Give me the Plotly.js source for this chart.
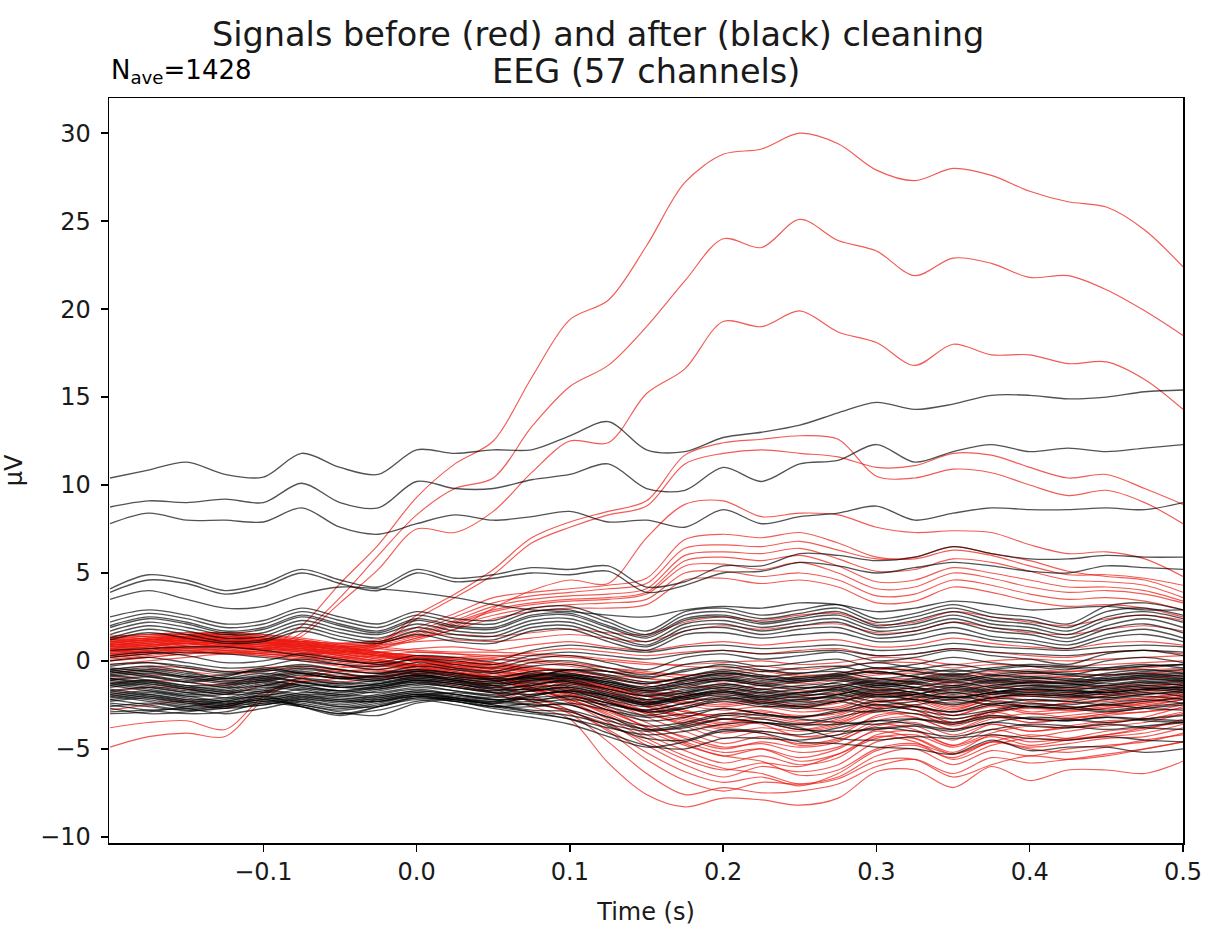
<!DOCTYPE html>
<html>
<head>
<meta charset="utf-8">
<script src="https://cdn.plot.ly/plotly-3.0.1.min.js"></script>
<style>
  html, body { margin: 0; padding: 0; background: #ffffff; }
  #chart { width: 1228px; height: 946px; }
</style>
</head>
<body>
<div id="chart"></div>
<script>
// Sample times (s)
const times = [-0.2,-0.175,-0.15,-0.125,-0.1,-0.075,-0.05,-0.025,0,0.025,0.05,0.075,0.1,0.125,0.15,0.175,0.2,0.225,0.25,0.275,0.3,0.325,0.35,0.375,0.4,0.425,0.45,0.475,0.5];

// Axis ticks
const xTicks = [-0.1,0,0.1,0.2,0.3,0.4,0.5];
const yTicks = [-10,-5,0,5,10,15,20,25,30];

// EEG channels before cleaning (µV), one row per channel
const before = [
  [0.8,0.9,1.1,0.9,0.7,2.0,4.4,6.6,9.3,11.2,12.5,16.1,19.4,20.5,23.6,27.2,28.8,29.1,30.0,29.4,27.9,27.3,28.0,27.6,26.7,26.1,25.8,24.5,22.4],
  [0.6,0.5,0.8,0.7,0.6,1.6,3.6,6.0,8.3,9.8,10.4,13.3,15.6,16.8,19.0,21.6,24.0,23.5,25.1,23.9,23.3,21.9,22.9,22.6,21.8,21.9,21.1,19.9,18.5],
  [0.3,0.5,0.6,0.4,0.5,1.4,3.3,5.2,7.5,7.3,8.5,10.7,12.5,12.4,15.2,16.6,19.3,19.0,19.9,18.7,18.1,16.8,18.0,17.4,17.4,16.9,17.0,16.0,14.3],
  [0.9,1.0,1.2,1.0,0.8,0.7,0.6,1.0,2.6,3.8,5.2,7.0,7.9,8.5,9.1,11.7,12.4,12.6,12.8,12.6,10.5,10.4,10.9,10.7,10.0,9.4,9.7,9.0,7.8],
  [0.7,0.8,1.0,0.8,0.7,0.6,0.5,0.9,2.4,3.6,4.9,6.7,7.6,8.3,8.8,11.2,11.8,12.0,11.8,11.6,11.0,11.1,11.8,11.7,11.0,10.4,10.6,9.8,8.9],
  [0.5,0.7,0.8,0.6,0.5,0.4,0.5,0.7,1.3,1.8,3.0,4.0,4.6,4.4,7.0,8.9,9.1,8.2,8.4,8.3,7.6,7.3,7.4,7.3,6.6,6.1,6.2,5.8,4.8],
  [1.2,1.4,1.5,1.3,1.1,1.0,0.9,1.1,1.7,2.5,3.3,3.7,3.9,4.1,4.4,6.4,6.6,6.5,6.8,6.3,5.8,5.9,6.5,6.1,5.7,5.1,4.8,4.6,3.9],
  [1.0,1.2,1.3,1.2,1.0,0.9,0.8,1.0,1.6,2.3,3.1,3.5,3.7,3.8,4.1,6.0,6.2,6.1,6.4,5.8,5.1,5.2,5.8,5.6,5.1,4.6,4.5,4.3,3.6],
  [0.9,1.1,1.2,1.0,0.9,0.8,0.7,0.9,1.4,2.1,2.8,3.2,3.4,3.5,3.8,5.4,5.5,5.2,5.6,5.0,4.1,4.2,5.0,4.7,4.2,3.9,4.0,3.8,3.3],
  [0.8,1.0,1.1,0.9,0.8,0.7,0.6,0.8,1.3,2.0,2.6,3.0,3.2,3.3,3.5,5.0,5.1,4.8,5.0,4.6,3.7,3.8,4.6,4.3,3.8,3.5,3.6,3.4,2.9],
  [0.7,0.9,1.0,0.8,0.7,0.6,0.5,0.7,1.2,1.8,2.4,2.8,3.0,3.0,3.2,4.6,4.7,4.4,4.6,4.2,3.3,3.4,4.2,3.9,3.4,3.1,3.2,3.0,2.5],
  [1.1,1.3,1.4,1.3,1.2,1.1,1.0,1.2,1.9,2.7,3.6,3.9,4.1,4.3,4.7,6.9,7.2,7.0,7.3,6.7,5.9,5.8,6.3,6.0,5.4,4.9,4.9,4.7,4.3],
  [0.9,1.1,1.2,1.1,0.9,0.8,0.8,1.0,1.5,2.2,2.9,3.3,3.5,3.6,3.9,5.7,5.9,5.7,6.0,5.4,4.5,4.6,5.3,5.0,4.6,4.2,4.2,4.0,3.4],
  [1.3,1.5,1.6,1.4,1.2,1.1,1.0,1.1,1.4,1.5,1.4,1.6,1.8,1.6,1.5,2.2,2.5,2.3,2.6,2.7,2.1,2.2,2.8,2.5,2.2,2.0,2.4,2.6,2.3],
  [1.0,1.2,1.3,1.2,1.0,0.9,0.8,0.9,1.1,1.2,1.1,1.3,1.5,1.3,1.1,1.7,2.0,1.8,2.0,2.1,1.6,1.7,2.2,1.9,1.6,1.5,1.8,2.0,1.7],
  [0.6,0.8,1.0,0.8,0.7,0.5,0.4,0.5,0.7,0.8,0.6,0.9,1.1,0.8,0.6,0.9,1.1,0.9,1.1,1.2,0.8,0.9,1.3,1.0,0.8,0.7,1.0,1.1,0.9],
  [0.4,0.6,0.7,0.6,0.4,0.3,0.2,0.3,0.5,0.4,0.2,0.5,0.7,0.5,0.3,0.5,0.6,0.4,0.6,0.7,0.3,0.4,0.7,0.5,0.3,0.2,0.5,0.6,0.4],
  [0.2,0.4,0.6,0.5,0.3,0.0,-0.3,-0.5,-0.8,-1.2,-1.8,-2.6,-3.3,-5.8,-7.6,-8.3,-7.8,-7.9,-8.2,-7.8,-6.3,-6.2,-7.2,-6.0,-6.8,-6.2,-6.2,-6.4,-5.7],
  [-4.9,-4.3,-4.1,-4.3,-2.2,-1.0,-0.6,-0.5,-0.7,-1.1,-1.6,-2.3,-3.0,-4.6,-6.4,-7.6,-7.2,-7.5,-7.4,-7.0,-6.0,-5.6,-6.4,-5.5,-5.8,-5.6,-5.3,-5.0,-4.6],
  [-3.8,-3.5,-3.4,-3.9,-2.0,-0.9,-0.4,-0.3,-0.5,-0.9,-1.4,-2.0,-2.8,-4.0,-5.6,-6.8,-7.4,-6.9,-7.0,-6.6,-5.4,-5.0,-5.9,-5.1,-5.4,-5.0,-4.8,-4.6,-4.1],
  [0.8,1.0,1.2,1.3,1.1,0.8,0.4,0.1,-0.3,-0.8,-1.4,-2.1,-2.8,-3.9,-5.2,-6.3,-6.9,-6.6,-7.1,-6.4,-5.1,-4.8,-5.5,-4.6,-4.9,-4.7,-4.4,-4.3,-3.8],
  [1.1,1.3,1.4,1.5,1.3,1.0,0.7,0.3,-0.1,-0.6,-1.1,-1.7,-2.4,-3.5,-4.8,-5.9,-6.6,-6.0,-6.3,-5.9,-4.6,-4.4,-5.2,-4.2,-4.6,-4.4,-4.0,-3.8,-3.5],
  [-2.8,-2.5,-2.3,-2.7,-1.8,-1.2,-1.0,-0.9,-1.1,-1.4,-1.8,-2.3,-2.9,-3.6,-4.6,-5.6,-6.2,-5.8,-6.0,-5.3,-4.3,-4.6,-5.6,-4.8,-4.4,-4.5,-4.2,-3.9,-3.3],
  [0.5,0.7,0.9,1.0,0.8,0.6,0.3,0.0,-0.3,-0.7,-1.1,-1.6,-2.2,-3.1,-4.2,-5.1,-5.8,-5.4,-5.9,-5.5,-4.2,-4.0,-4.8,-3.9,-4.3,-4.0,-3.7,-3.5,-3.0],
  [1.3,1.4,1.5,1.6,1.5,1.2,0.9,0.5,0.1,-0.3,-0.7,-1.2,-1.8,-2.7,-3.8,-4.7,-5.4,-5.0,-5.5,-5.0,-3.9,-3.7,-4.5,-3.6,-4.0,-3.7,-3.4,-3.3,-2.9],
  [0.3,0.5,0.7,0.8,0.6,0.4,0.1,-0.2,-0.4,-0.6,-0.9,-1.3,-1.9,-2.6,-3.5,-4.4,-5.0,-4.6,-4.9,-4.6,-3.6,-3.9,-4.8,-4.1,-3.7,-3.8,-3.6,-3.2,-2.6],
  [0.9,1.1,1.3,1.4,1.2,1.0,0.6,0.3,0.0,-0.3,-0.6,-1.0,-1.6,-2.3,-3.2,-4.0,-4.7,-4.3,-4.7,-4.4,-3.4,-3.2,-3.9,-3.2,-3.5,-3.3,-3.0,-2.9,-2.5],
  [0.6,0.8,1.0,1.1,1.0,0.7,0.4,0.1,-0.2,-0.4,-0.6,-0.9,-1.4,-2.0,-2.9,-3.7,-4.4,-4.0,-4.3,-4.2,-3.1,-3.0,-3.6,-2.9,-3.3,-3.1,-2.9,-2.7,-2.4],
  [-1.0,-0.8,-0.9,-1.2,-0.9,-0.7,-0.8,-0.9,-0.8,-1.0,-1.2,-1.5,-1.9,-2.4,-3.0,-3.6,-4.1,-3.8,-4.0,-3.7,-2.9,-3.2,-3.9,-3.3,-3.0,-3.2,-3.0,-2.6,-2.2],
  [1.2,1.3,1.4,1.4,1.2,1.0,0.8,0.5,0.2,0.0,-0.2,-0.6,-1.1,-1.7,-2.6,-3.3,-3.8,-3.5,-3.9,-3.6,-2.7,-2.5,-3.1,-2.5,-2.9,-2.7,-2.5,-2.3,-2.0],
  [0.4,0.6,0.8,0.9,0.8,0.6,0.3,0.0,-0.2,-0.3,-0.5,-0.8,-1.2,-1.8,-2.5,-3.1,-3.5,-3.2,-3.5,-3.4,-2.6,-2.8,-3.5,-2.9,-2.7,-2.8,-2.6,-2.4,-2.1],
  [1.0,1.2,1.3,1.3,1.1,0.9,0.6,0.3,0.1,-0.1,-0.3,-0.6,-1.0,-1.5,-2.2,-2.8,-3.3,-3.0,-3.4,-3.1,-2.4,-2.2,-2.8,-2.2,-2.6,-2.4,-2.2,-2.1,-1.9],
  [-1.8,-1.5,-1.6,-1.9,-1.4,-1.1,-1.2,-1.0,-0.9,-1.1,-1.4,-1.7,-2.0,-2.4,-2.8,-3.1,-3.0,-2.8,-3.2,-2.9,-2.2,-2.6,-3.3,-2.8,-2.4,-2.6,-2.5,-2.2,-1.9],
  [0.7,0.9,1.1,1.2,1.0,0.8,0.5,0.2,0.0,-0.2,-0.4,-0.6,-0.9,-1.4,-2.0,-2.5,-2.8,-2.6,-2.9,-2.7,-2.0,-1.9,-2.5,-2.0,-2.3,-2.2,-2.0,-1.9,-1.7],
  [0.2,0.4,0.6,0.7,0.6,0.4,0.1,-0.1,-0.3,-0.4,-0.6,-0.8,-1.1,-1.5,-2.0,-2.4,-2.6,-2.4,-2.7,-2.6,-1.9,-2.1,-2.7,-2.2,-2.0,-2.1,-2.0,-1.8,-1.6],
  [1.4,1.5,1.5,1.6,1.4,1.1,0.8,0.5,0.3,0.1,-0.1,-0.3,-0.7,-1.1,-1.7,-2.1,-2.4,-2.2,-2.5,-2.3,-1.7,-1.6,-2.1,-1.7,-2.0,-1.9,-1.7,-1.6,-1.5],
  [0.0,0.2,0.4,0.5,0.4,0.2,-0.1,-0.3,-0.4,-0.5,-0.7,-0.9,-1.1,-1.4,-1.8,-2.1,-2.2,-2.0,-2.3,-2.2,-1.6,-1.8,-2.3,-1.9,-1.7,-1.8,-1.7,-1.5,-1.3],
  [0.9,1.0,1.2,1.2,1.1,0.9,0.6,0.3,0.1,-0.1,-0.2,-0.4,-0.7,-1.0,-1.4,-1.8,-2.0,-1.8,-2.1,-1.9,-1.4,-1.3,-1.8,-1.4,-1.7,-1.6,-1.5,-1.4,-1.3],
  [-0.2,0.0,0.2,0.4,0.3,0.1,-0.2,-0.4,-0.5,-0.7,-0.9,-1.1,-1.3,-1.5,-1.7,-1.9,-1.8,-1.6,-1.9,-1.8,-1.3,-1.5,-2.0,-1.6,-1.4,-1.5,-1.4,-1.3,-1.1],
  [1.1,1.2,1.3,1.4,1.3,1.1,0.8,0.5,0.3,0.2,0.1,-0.1,-0.3,-0.6,-1.0,-1.3,-1.6,-1.4,-1.7,-1.5,-1.1,-1.0,-1.4,-1.1,-1.3,-1.2,-1.1,-1.0,-0.9],
  [0.5,0.7,0.9,1.0,0.9,0.7,0.4,0.2,0.0,-0.1,-0.2,-0.4,-0.6,-0.9,-1.2,-1.5,-1.4,-1.2,-1.5,-1.4,-1.0,-1.2,-1.6,-1.3,-1.1,-1.2,-1.1,-1.0,-0.8],
  [1.3,1.4,1.4,1.5,1.4,1.2,0.9,0.7,0.5,0.4,0.3,0.1,-0.1,-0.4,-0.7,-1.0,-1.2,-1.0,-1.3,-1.1,-0.8,-0.7,-1.1,-0.8,-1.0,-0.9,-0.8,-0.7,-0.6],
  [0.1,0.3,0.5,0.6,0.5,0.3,0.0,-0.2,-0.3,-0.3,-0.4,-0.5,-0.6,-0.8,-1.0,-1.1,-1.0,-0.8,-1.1,-1.0,-0.7,-0.9,-1.3,-1.0,-0.8,-0.9,-0.8,-0.7,-0.5],
  [0.8,0.9,1.1,1.2,1.1,0.9,0.6,0.4,0.2,0.1,0.1,0.0,-0.2,-0.4,-0.6,-0.8,-0.8,-0.6,-0.9,-0.8,-0.5,-0.5,-0.8,-0.6,-0.7,-0.6,-0.5,-0.5,-0.4],
  [-1.3,-1.1,-1.2,-1.4,-1.1,-0.9,-0.9,-0.8,-0.7,-0.8,-0.9,-1.2,-1.6,-2.0,-2.6,-3.2,-3.6,-3.3,-3.7,-3.3,-2.5,-2.8,-3.5,-3.0,-2.6,-2.8,-2.7,-2.4,-2.0],
  [1.0,1.2,1.4,1.5,1.3,1.1,0.8,0.4,0.1,-0.2,-0.5,-0.9,-1.5,-2.2,-3.0,-3.5,-3.9,-4.1,-4.8,-4.5,-3.7,-3.5,-4.2,-3.6,-4.0,-3.8,-3.5,-3.3,-3.0],
  [0.4,0.6,0.8,0.9,0.7,0.5,0.2,-0.1,-0.3,-0.6,-1.0,-1.5,-2.2,-3.0,-4.0,-4.8,-5.4,-5.7,-6.5,-6.2,-5.0,-4.7,-5.3,-4.6,-5.0,-5.2,-4.9,-4.5,-4.2],
  [1.2,1.3,1.5,1.5,1.3,1.0,0.7,0.4,0.0,-0.4,-0.9,-1.5,-2.3,-3.3,-4.4,-5.4,-6.1,-6.4,-7.0,-6.7,-5.7,-5.6,-6.6,-5.9,-5.4,-5.6,-5.4,-5.0,-4.6],
  [0.6,0.8,1.0,1.1,0.9,0.7,0.3,0.0,-0.2,-0.5,-0.9,-1.4,-2.0,-2.8,-3.8,-4.6,-5.2,-5.0,-5.7,-5.3,-4.4,-4.2,-4.9,-4.3,-4.8,-4.5,-4.3,-4.1,-3.6],
  [-0.5,-0.3,-0.4,-0.6,-0.4,-0.3,-0.5,-0.6,-0.6,-0.8,-1.0,-1.3,-1.7,-2.2,-2.9,-3.4,-3.7,-3.5,-3.9,-3.5,-2.8,-2.6,-3.1,-2.6,-3.0,-2.9,-2.7,-2.5,-2.2],
  [0.9,1.1,1.2,1.3,1.2,0.9,0.6,0.3,0.1,-0.1,-0.4,-0.7,-1.2,-1.8,-2.4,-2.9,-3.1,-2.9,-3.1,-3.0,-2.3,-2.3,-2.9,-2.4,-2.6,-2.4,-2.3,-2.1,-1.8],
  [0.3,0.5,0.7,0.8,0.7,0.5,0.2,0.0,-0.2,-0.2,-0.3,-0.4,-0.5,-0.6,-0.7,-0.8,-0.6,-0.5,-0.8,-0.7,-0.4,-0.6,-0.9,-0.7,-0.5,-0.6,-0.5,-0.4,-0.2],
  [1.4,1.5,1.6,1.6,1.5,1.3,1.0,0.8,0.6,0.5,0.5,0.4,0.3,0.1,-0.1,-0.3,-0.4,-0.3,-0.5,-0.3,-0.1,-0.1,-0.4,-0.2,-0.3,-0.3,-0.2,-0.1,0.0],
  [0.7,0.9,1.0,1.1,1.0,0.8,0.5,0.3,0.2,0.2,0.3,0.3,0.2,0.0,-0.2,-0.2,-0.1,0.0,-0.2,-0.1,0.2,0.1,-0.2,0.0,0.1,0.0,0.1,0.2,0.3],
  [-0.7,-0.5,-0.6,-0.8,-0.6,-0.4,-0.6,-0.7,-0.6,-0.7,-0.8,-1.0,-1.3,-1.6,-2.0,-2.3,-2.5,-2.3,-2.6,-2.4,-1.8,-2.0,-2.6,-2.1,-1.9,-2.0,-1.9,-1.7,-1.4],
  [1.1,1.2,1.4,1.4,1.3,1.1,0.8,0.5,0.3,0.1,-0.1,-0.5,-1.0,-1.6,-2.3,-2.9,-3.3,-3.6,-4.3,-4.0,-3.2,-3.0,-3.7,-3.1,-3.5,-3.3,-3.1,-2.9,-2.7],
  [0.0,0.2,0.4,0.5,0.4,0.2,0.0,-0.2,-0.4,-0.7,-1.1,-1.6,-2.2,-2.9,-3.7,-4.3,-4.9,-4.7,-5.2,-4.9,-4.0,-4.4,-5.3,-4.6,-4.2,-4.4,-4.2,-3.8,-3.4]
];

// Same channels after cleaning (µV)
const after = [
  [10.4,10.85,11.3,10.6,10.45,11.8,11.0,10.6,12.0,11.8,12.0,12.0,12.8,13.6,12.0,11.9,12.7,13.0,13.4,14.1,14.7,14.3,14.6,15.1,15.1,14.9,15.0,15.3,15.4],
  [8.75,9.1,9.0,9.2,9.0,10.1,9.0,8.7,10.2,9.8,9.8,10.3,10.6,11.2,9.8,9.7,11.0,10.2,11.2,11.4,12.3,11.3,11.9,12.3,11.9,12.1,11.9,12.1,12.3],
  [7.8,8.4,8.0,8.0,7.9,8.7,7.6,7.2,7.8,8.3,8.0,8.2,8.5,7.9,8.0,7.6,8.6,7.8,8.2,8.4,8.8,8.0,8.4,8.7,8.6,8.6,8.7,8.6,9.0],
  [4.1,4.9,4.6,4.0,4.4,5.2,4.6,4.2,5.2,4.7,4.9,5.3,5.2,5.4,4.2,4.5,5.4,5.4,6.1,6.0,5.7,5.9,6.5,6.1,5.8,5.8,6.0,5.9,5.9],
  [3.9,4.6,4.4,3.8,4.2,5.0,4.4,4.0,5.0,4.5,4.7,5.0,4.9,5.1,3.9,4.3,5.0,5.1,5.6,5.4,5.0,5.3,5.6,5.4,5.1,5.0,5.4,5.3,5.2],
  [3.5,4.0,3.5,3.0,3.1,3.8,4.2,4.1,3.9,3.6,3.2,2.9,2.8,2.6,2.5,2.9,3.1,3.0,3.3,3.2,2.8,3.0,3.4,3.2,2.9,3.0,3.1,2.9,2.9],
  [0.6,0.7,0.8,0.8,0.6,0.3,0.0,-0.1,0.3,0.2,0.0,0.6,0.9,0.7,0.5,0.8,0.9,0.7,0.8,0.9,0.6,0.7,1.0,0.8,0.7,0.6,0.8,0.9,0.8],
  [0.2,0.4,0.5,0.4,0.2,0.0,-0.2,-0.3,0.1,0.0,-0.2,0.3,0.5,0.3,0.1,0.4,0.6,0.4,0.5,0.6,0.3,0.4,0.7,0.5,0.4,0.3,0.5,0.6,0.5],
  [2.5,2.9,2.6,2.1,2.3,3.0,2.5,2.1,2.8,2.4,2.3,3.0,3.1,2.4,1.7,2.8,3.0,2.6,2.9,3.2,2.4,2.7,3.2,2.7,2.5,2.1,3.1,3.3,2.9],
  [2.2,2.7,2.4,1.9,2.1,2.8,2.3,1.9,2.6,2.2,2.1,2.8,2.9,2.2,1.5,2.6,2.8,2.4,2.7,3.0,2.2,2.5,3.0,2.5,2.3,1.9,2.8,3.0,2.6],
  [2.0,2.5,2.2,1.7,1.9,2.6,2.1,1.7,2.4,2.0,1.9,2.6,2.7,2.0,1.4,2.4,2.6,2.2,2.5,2.8,2.0,2.3,2.8,2.3,2.1,1.7,2.5,2.8,2.4],
  [1.9,2.4,2.1,1.6,1.8,2.5,2.0,1.6,2.3,1.9,1.8,2.5,2.6,1.9,1.3,2.3,2.5,2.1,2.4,2.6,1.9,2.1,2.6,2.1,1.9,1.5,2.3,2.6,2.2],
  [1.7,2.2,1.9,1.5,1.6,2.3,1.8,1.5,2.1,1.7,1.6,2.3,2.4,1.7,1.1,2.1,2.3,1.9,2.2,2.4,1.7,1.9,2.4,1.9,1.7,1.3,2.0,2.4,1.9],
  [1.5,2.0,1.7,1.3,1.4,2.1,1.6,1.3,1.9,1.5,1.4,2.1,2.2,1.5,0.9,1.9,2.1,1.7,2.0,2.2,1.5,1.7,2.2,1.7,1.5,1.1,1.8,2.1,1.6],
  [1.3,1.8,1.5,1.1,1.2,1.9,1.4,1.1,1.7,1.3,1.2,1.9,2.0,1.3,0.8,1.7,1.9,1.5,1.8,1.9,1.3,1.5,1.9,1.4,1.2,0.9,1.5,1.8,1.3],
  [1.2,1.6,1.3,1.0,1.1,1.7,1.2,1.0,1.5,1.1,1.0,1.7,1.8,1.1,0.6,1.5,1.6,1.3,1.5,1.6,1.1,1.2,1.6,1.2,1.0,0.7,1.3,1.5,1.1],
  [0.3,0.5,0.3,-0.1,0.0,0.4,0.1,-0.2,0.1,-0.2,-0.4,0.1,0.3,-0.1,-0.5,0.2,0.4,0.1,0.3,0.5,0.0,0.2,0.6,0.3,0.1,-0.2,0.4,0.6,0.3],
  [0.0,0.2,-0.1,-0.4,-0.3,0.1,-0.2,-0.5,-0.1,-0.4,-0.6,-0.1,0.0,-0.4,-0.8,-0.2,0.0,-0.3,-0.1,0.1,-0.4,-0.2,0.2,-0.1,-0.3,-0.5,0.0,0.2,-0.1],
  [-0.2,-0.1,-0.4,-0.7,-0.5,-0.2,-0.5,-0.7,-0.3,-0.5,-0.7,-0.3,-0.2,-0.6,-1.0,-0.5,-0.3,-0.6,-0.4,-0.3,-0.7,-0.5,-0.2,-0.5,-0.6,-0.8,-0.4,-0.2,-0.4],
  [-0.4,-0.6,-0.9,-0.8,-0.5,-0.7,-1.0,-0.9,-0.6,-0.8,-1.1,-0.9,-0.5,-0.8,-1.2,-1.0,-0.7,-0.9,-1.1,-0.8,-0.6,-0.9,-1.2,-0.9,-0.7,-0.8,-1.0,-0.8,-0.7],
  [-0.5,-0.3,-0.6,-1.0,-0.8,-0.4,-0.7,-1.0,-0.6,-0.9,-1.0,-0.6,-0.5,-0.9,-1.3,-0.9,-0.6,-0.9,-0.7,-0.6,-1.0,-0.8,-0.5,-0.8,-0.9,-1.1,-0.7,-0.5,-0.7],
  [-0.6,-0.9,-1.2,-1.0,-0.7,-1.0,-1.3,-1.1,-0.8,-1.1,-1.4,-1.2,-0.9,-1.3,-1.7,-1.5,-1.1,-1.4,-1.6,-1.2,-1.0,-1.3,-1.5,-1.2,-1.0,-1.1,-1.3,-1.1,-1.0],
  [-0.7,-0.5,-0.8,-1.1,-1.0,-0.6,-0.9,-1.1,-0.8,-1.0,-1.2,-0.8,-0.7,-1.1,-1.5,-1.1,-0.8,-1.1,-0.9,-0.8,-1.2,-1.0,-0.7,-1.0,-1.1,-1.2,-0.9,-0.7,-0.9],
  [-0.8,-1.1,-1.4,-1.3,-0.9,-1.2,-1.5,-1.3,-1.0,-1.2,-1.5,-1.4,-1.1,-1.6,-2.0,-1.8,-1.4,-1.7,-1.9,-1.5,-1.2,-1.5,-1.8,-1.5,-1.2,-1.3,-1.5,-1.3,-1.2],
  [-0.9,-0.7,-1.0,-1.3,-1.2,-0.8,-1.0,-1.2,-0.9,-1.1,-1.3,-0.9,-0.8,-1.2,-1.6,-1.2,-0.9,-1.2,-1.0,-0.9,-1.3,-1.1,-0.8,-1.1,-1.2,-1.3,-1.0,-0.8,-1.0],
  [-1.0,-1.3,-1.6,-1.5,-1.1,-1.4,-1.7,-1.4,-1.1,-1.3,-1.6,-1.6,-1.3,-1.9,-2.4,-2.2,-1.8,-2.1,-2.3,-1.9,-1.5,-1.8,-2.1,-1.8,-1.5,-1.6,-1.8,-1.6,-1.4],
  [-1.1,-0.9,-1.2,-1.5,-1.4,-1.0,-1.2,-1.3,-1.0,-1.2,-1.4,-1.0,-0.9,-1.3,-1.7,-1.3,-1.0,-1.3,-1.1,-1.0,-1.4,-1.2,-0.9,-1.2,-1.3,-1.4,-1.1,-0.9,-1.1],
  [-1.2,-1.5,-1.8,-1.7,-1.3,-1.5,-1.8,-1.5,-1.2,-1.5,-1.8,-1.9,-1.7,-2.3,-2.9,-2.7,-2.2,-2.5,-2.7,-2.3,-1.9,-2.2,-2.5,-2.1,-1.8,-1.9,-2.1,-1.9,-1.7],
  [-1.3,-1.1,-1.4,-1.7,-1.6,-1.2,-1.3,-1.4,-1.1,-1.3,-1.5,-1.1,-1.0,-1.4,-1.8,-1.4,-1.1,-1.4,-1.2,-1.1,-1.5,-1.3,-1.0,-1.3,-1.4,-1.5,-1.2,-1.0,-1.2],
  [-1.4,-1.7,-2.0,-1.9,-1.5,-1.7,-2.0,-1.7,-1.4,-1.7,-2.0,-2.2,-2.1,-2.8,-3.4,-3.2,-2.7,-3.0,-3.2,-2.8,-2.3,-2.6,-2.9,-2.5,-2.2,-2.3,-2.5,-2.3,-2.1],
  [-1.5,-1.3,-1.6,-1.9,-1.8,-1.4,-1.5,-1.6,-1.3,-1.5,-1.7,-1.3,-1.2,-1.6,-2.0,-1.6,-1.3,-1.6,-1.4,-1.3,-1.7,-1.5,-1.2,-1.5,-1.6,-1.7,-1.4,-1.2,-1.4],
  [-1.6,-1.9,-2.2,-2.1,-1.7,-1.9,-2.2,-1.9,-1.6,-1.9,-2.2,-2.5,-2.5,-3.2,-3.9,-3.8,-3.3,-3.5,-3.6,-3.2,-2.8,-3.0,-3.3,-2.9,-2.6,-2.7,-2.9,-2.7,-2.5],
  [-1.7,-1.5,-1.8,-2.1,-2.0,-1.6,-1.7,-1.8,-1.5,-1.7,-1.9,-1.5,-1.4,-1.8,-2.2,-1.8,-1.5,-1.8,-1.6,-1.5,-1.9,-1.7,-1.4,-1.7,-1.8,-1.9,-1.6,-1.4,-1.6],
  [-1.8,-2.1,-2.4,-2.3,-1.9,-2.1,-2.4,-2.1,-1.8,-2.1,-2.5,-2.8,-2.9,-3.7,-4.4,-4.5,-3.9,-4.0,-4.2,-3.8,-3.4,-3.6,-3.9,-3.5,-3.2,-3.3,-3.5,-3.3,-3.1],
  [-1.9,-1.7,-2.0,-2.3,-2.2,-1.8,-1.9,-2.0,-1.7,-1.9,-2.1,-1.7,-1.6,-2.0,-2.4,-2.0,-1.7,-2.0,-1.8,-1.7,-2.1,-1.9,-1.6,-1.9,-2.0,-2.1,-1.8,-1.6,-1.8],
  [-2.0,-2.3,-2.6,-2.5,-2.1,-2.3,-2.6,-2.3,-2.0,-2.3,-2.7,-3.0,-3.3,-4.1,-4.8,-5.0,-4.4,-4.4,-4.5,-4.2,-3.8,-4.0,-4.3,-3.9,-3.6,-3.7,-3.9,-3.7,-3.5],
  [-2.1,-1.9,-2.2,-2.5,-2.4,-2.0,-2.1,-2.2,-1.9,-2.1,-2.3,-1.9,-1.8,-2.2,-2.6,-2.2,-1.9,-2.2,-2.0,-1.9,-2.3,-2.1,-1.8,-2.1,-2.2,-2.3,-2.0,-1.8,-2.0],
  [-2.2,-2.5,-2.8,-2.7,-2.3,-2.5,-2.8,-2.5,-2.1,-2.3,-2.6,-2.6,-2.4,-2.8,-3.2,-3.0,-2.7,-3.0,-3.2,-2.9,-2.5,-2.8,-3.1,-2.8,-2.5,-2.6,-2.8,-2.6,-2.4],
  [-2.3,-2.1,-2.4,-2.7,-2.5,-2.2,-2.3,-2.3,-2.0,-2.2,-2.4,-2.1,-2.0,-2.4,-2.8,-2.4,-2.1,-2.4,-2.2,-2.1,-2.5,-2.3,-2.0,-2.3,-2.4,-2.5,-2.2,-2.0,-2.2],
  [-2.5,-2.8,-3.0,-2.9,-2.4,-2.6,-3.0,-2.6,-2.2,-2.5,-2.9,-3.2,-3.6,-4.3,-4.9,-4.6,-4.0,-4.1,-4.6,-4.7,-4.9,-5.0,-5.3,-4.5,-5.1,-4.9,-4.9,-5.2,-5.0],
  [-2.7,-3.0,-2.9,-2.6,-2.2,-2.5,-2.9,-3.1,-2.4,-2.2,-2.5,-2.9,-3.3,-3.8,-4.2,-4.0,-3.6,-3.5,-3.8,-4.4,-4.5,-4.3,-4.4,-4.2,-4.4,-4.5,-4.3,-4.5,-4.6],
  [-2.9,-2.8,-2.7,-2.6,-2.2,-2.6,-3.0,-2.8,-2.3,-2.1,-2.3,-2.3,-2.0,-2.6,-3.1,-2.7,-2.3,-2.6,-2.5,-2.3,-2.7,-2.5,-2.2,-2.5,-2.6,-2.7,-2.4,-2.2,-2.4],
  [-3.0,-2.9,-2.6,-2.3,-2.0,-2.6,-3.1,-2.6,-2.0,-1.8,-2.0,-1.7,-1.5,-2.0,-2.5,-2.0,-1.7,-2.1,-1.8,-1.6,-2.0,-1.9,-1.5,-1.8,-1.9,-2.0,-1.7,-1.5,-1.7],
  [-0.5,-0.8,-1.1,-0.9,-0.4,-0.7,-1.0,-0.8,-0.5,-0.7,-1.0,-0.9,-0.5,-0.6,-0.9,-0.6,-0.2,-0.5,-0.7,-0.4,-0.1,-0.4,-0.6,-0.4,-0.2,-0.3,-0.4,-0.3,-0.2],
  [-0.8,-0.6,-0.9,-1.2,-1.1,-0.7,-0.9,-1.1,-0.8,-1.0,-1.2,-0.8,-0.9,-1.4,-1.9,-1.7,-1.3,-1.6,-1.8,-1.6,-1.3,-1.5,-1.7,-1.4,-1.2,-1.3,-1.4,-1.2,-1.1],
  [-1.1,-1.4,-1.7,-1.6,-1.2,-1.4,-1.7,-1.5,-1.1,-1.3,-1.6,-1.4,-1.0,-1.2,-1.5,-1.1,-0.7,-1.0,-1.2,-0.9,-0.6,-0.9,-1.1,-0.8,-0.6,-0.7,-0.8,-0.6,-0.5],
  [-1.4,-1.2,-1.5,-1.8,-1.7,-1.3,-1.4,-1.5,-1.2,-1.4,-1.7,-1.6,-1.8,-2.4,-2.9,-2.6,-2.1,-2.3,-2.6,-2.8,-2.9,-2.6,-2.9,-2.4,-2.6,-2.7,-2.5,-2.7,-2.8],
  [-1.7,-2.0,-2.3,-2.2,-1.8,-2.0,-2.3,-2.0,-1.7,-1.9,-2.2,-2.0,-1.7,-2.0,-2.4,-1.9,-1.5,-1.8,-2.0,-1.7,-1.4,-1.6,-1.9,-1.6,-1.4,-1.5,-1.6,-1.4,-1.3],
  [-2.0,-1.8,-2.1,-2.4,-2.3,-1.9,-2.0,-2.1,-1.8,-2.0,-2.2,-2.2,-2.5,-3.2,-3.7,-3.5,-3.0,-3.1,-3.3,-3.5,-3.6,-3.3,-3.5,-3.1,-3.3,-3.4,-3.2,-3.4,-3.5],
  [-2.4,-2.6,-2.8,-2.5,-2.1,-2.4,-2.7,-2.4,-2.0,-2.2,-2.4,-2.0,-1.7,-2.1,-2.5,-2.1,-1.8,-2.2,-2.4,-2.1,-1.8,-2.0,-2.2,-1.9,-1.7,-1.8,-1.9,-1.7,-1.6],
  [-0.3,-0.1,-0.3,-0.6,-0.6,-0.3,-0.5,-0.7,-0.5,-0.7,-0.9,-0.7,-0.8,-1.2,-1.6,-1.3,-1.0,-1.3,-1.5,-1.4,-1.1,-1.2,-1.4,-1.1,-0.9,-1.0,-1.1,-0.9,-0.8],
  [-1.0,-1.2,-1.5,-1.4,-1.0,-1.2,-1.5,-1.3,-0.9,-1.1,-1.3,-1.1,-0.8,-1.0,-1.3,-0.9,-0.5,-0.8,-1.0,-0.7,-0.4,-0.6,-0.8,-0.5,-0.3,-0.4,-0.5,-0.3,-0.2],
  [-1.9,-2.2,-2.5,-2.4,-2.0,-2.2,-2.5,-2.2,-1.9,-2.2,-2.6,-2.9,-3.1,-3.6,-4.0,-3.7,-3.3,-3.5,-3.9,-4.0,-3.9,-3.7,-4.0,-3.5,-3.7,-3.8,-3.6,-3.8,-3.9],
  [-2.6,-2.4,-2.7,-3.0,-2.7,-2.3,-2.6,-2.6,-2.1,-2.3,-2.6,-2.4,-2.2,-2.5,-2.8,-2.4,-2.0,-2.4,-2.6,-2.3,-2.0,-2.2,-2.4,-2.1,-1.9,-2.0,-2.1,-1.9,-1.8],
  [-0.6,-0.4,-0.7,-1.0,-0.9,-0.5,-0.7,-0.9,-0.7,-0.9,-1.1,-1.0,-1.2,-1.7,-2.2,-2.0,-1.6,-1.9,-2.1,-2.0,-1.7,-1.9,-2.1,-1.8,-1.6,-1.7,-1.8,-1.6,-1.5],
  [-1.3,-1.6,-1.9,-1.8,-1.4,-1.6,-1.9,-1.6,-1.3,-1.5,-1.8,-1.7,-1.5,-1.9,-2.3,-2.1,-1.7,-2.0,-2.2,-1.9,-1.6,-1.8,-2.1,-1.8,-1.6,-1.7,-1.8,-1.6,-1.5],
  [-2.2,-2.0,-2.3,-2.6,-2.5,-2.1,-2.2,-2.3,-1.9,-2.1,-2.4,-2.5,-2.8,-3.4,-3.9,-3.6,-3.1,-3.3,-3.6,-3.6,-3.4,-3.3,-3.6,-3.2,-3.3,-3.4,-3.2,-3.3,-3.4]
];

const redLine = {color: 'rgba(236,28,20,0.72)', width: 1.15, shape: 'spline', smoothing: 0.9};
const blackLine = {color: 'rgba(0,0,0,0.68)', width: 1.35, shape: 'spline', smoothing: 0.9};

const traces = [];
before.forEach(function (vals) {
  traces.push({x: times, y: vals, type: 'scatter', mode: 'lines', line: redLine, hoverinfo: 'skip', showlegend: false});
});
after.forEach(function (vals) {
  traces.push({x: times, y: vals, type: 'scatter', mode: 'lines', line: blackLine, hoverinfo: 'skip', showlegend: false});
});

const textColor = '#1a1a1a';
const axisCommon = {
  showgrid: false, zeroline: false, showline: true, mirror: true,
  linecolor: '#000', linewidth: 1.5,
  ticks: 'outside', ticklen: 7, tickwidth: 1.5, tickcolor: '#000',
  tickfont: {family: 'DejaVu Sans', size: 24, color: textColor}
};

const layout = {
  width: 1228, height: 946,
  margin: {l: 109, r: 45, t: 98, b: 103},
  paper_bgcolor: '#ffffff', plot_bgcolor: '#ffffff',
  font: {family: 'DejaVu Sans', color: textColor},
  showlegend: false,
  xaxis: Object.assign({}, axisCommon, {
    range: [-0.2007, 0.5], tickvals: xTicks, tickformat: '.1f',
    title: {text: 'Time (s)', font: {family: 'DejaVu Sans', size: 24, color: textColor}, standoff: 18}
  }),
  yaxis: Object.assign({}, axisCommon, {
    range: [-10.35, 32], tickvals: yTicks, ticklabelstandoff: 5,
    title: {text: 'µV', font: {family: 'DejaVu Sans', size: 24, color: textColor}, standoff: 16}
  }),
  annotations: [
    {text: 'Signals before (red) and after (black) cleaning', xref: 'paper', yref: 'paper',
     x: 0.4553, y: 1.0846, xanchor: 'center', yanchor: 'middle', showarrow: false,
     font: {family: 'DejaVu Sans', size: 33.5, color: textColor}},
    {text: 'EEG (57 channels)', xref: 'paper', yref: 'paper',
     x: 0.5, y: 1.0362, xanchor: 'center', yanchor: 'middle', showarrow: false,
     font: {family: 'DejaVu Sans', size: 33.5, color: textColor}},
    {text: 'N<sub>ave</sub>=1428', xref: 'paper', yref: 'paper',
     x: 0, y: 1.0350, xanchor: 'left', yanchor: 'middle', showarrow: false,
     font: {family: 'DejaVu Sans', size: 26, color: '#000'}}
  ]
};

Plotly.newPlot('chart', traces, layout, {displayModeBar: false, staticPlot: true});
</script>
</body>
</html>
